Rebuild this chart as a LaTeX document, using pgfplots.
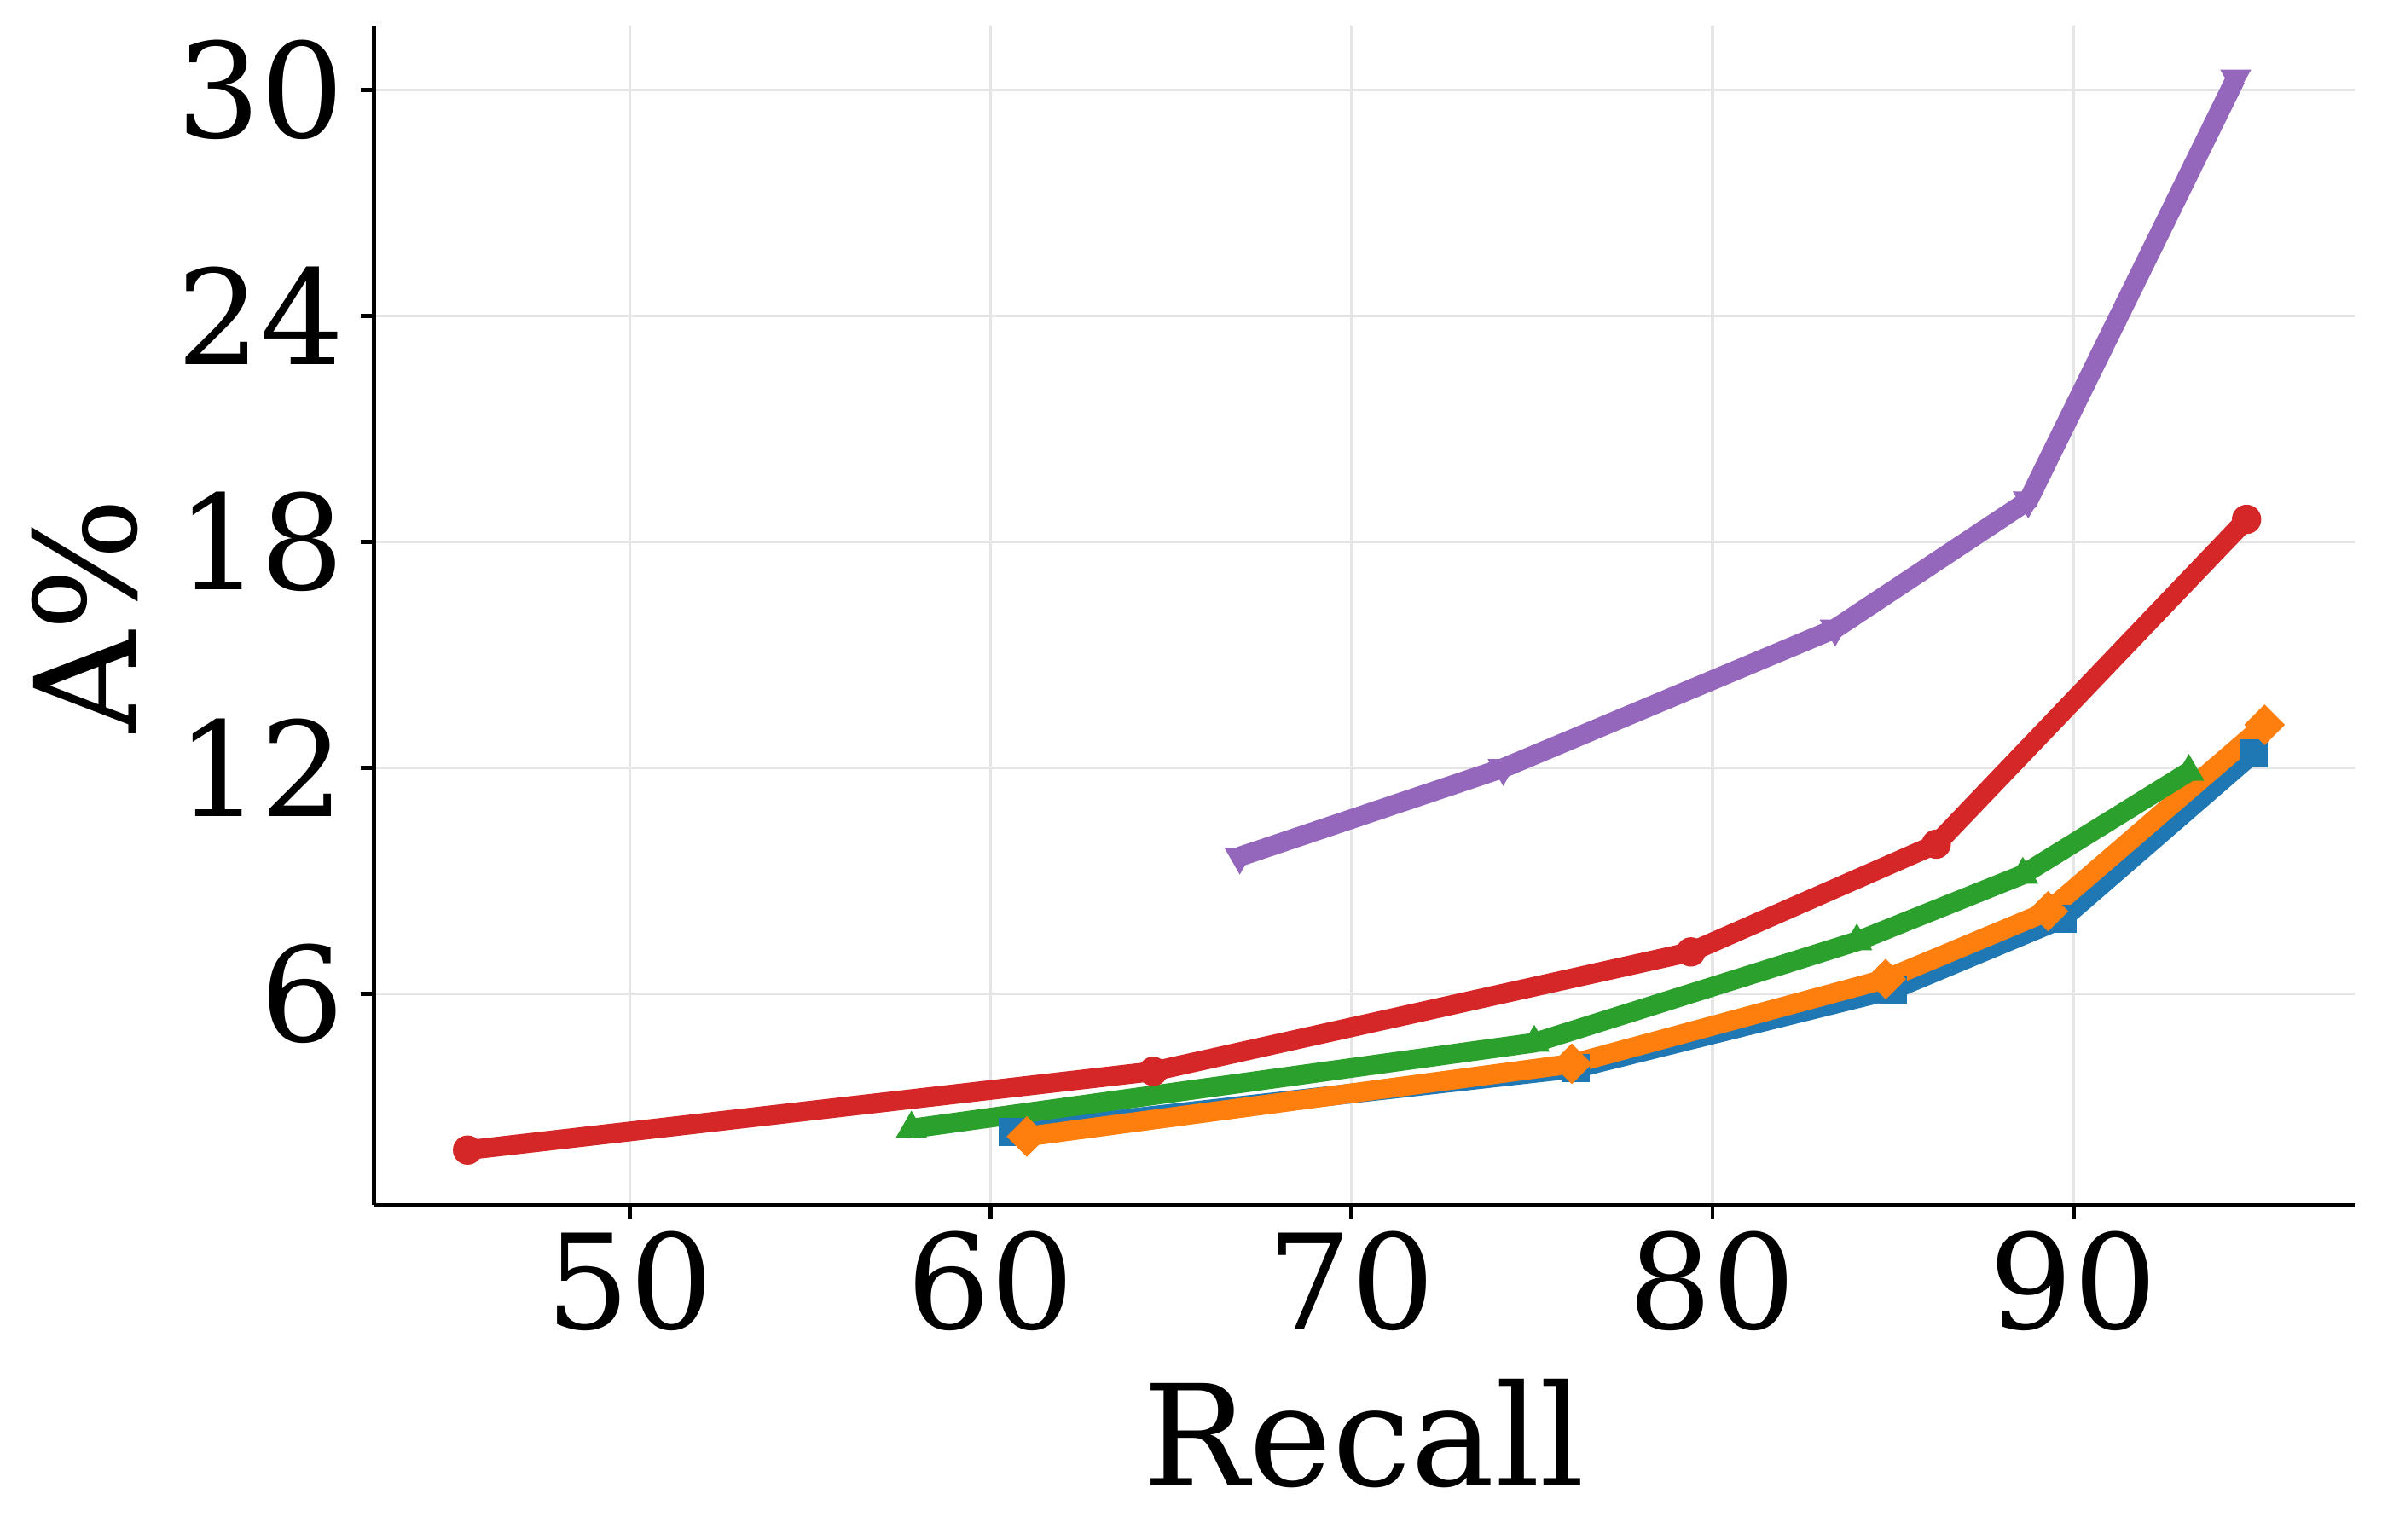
\documentclass[border=0pt]{standalone}
\usepackage{fontspec}
\setmainfont{DejaVu Serif}
\usepackage{pgfplots}
\pgfplotsset{compat=1.18}

\definecolor{tabblue}{HTML}{1F77B4}
\definecolor{taborange}{HTML}{FF7F0E}
\definecolor{tabgreen}{HTML}{2CA02C}
\definecolor{tabred}{HTML}{D62728}
\definecolor{tabpurple}{HTML}{9467BD}

\pgfplotsset{series/.style={line width=3.3pt}}

\begin{document}
\begin{tikzpicture}
    \begin{axis}[
        scale only axis,
        width=11.64cm, height=6.93cm,
        xmin=42.9, xmax=97.8,
        ymin=0.4, ymax=31.7,
        xtick={50,60,70,80,90},
        ytick={6,12,18,24,30},
        axis x line*=bottom,
        axis y line*=left,
        axis line style={line width=0.7pt},
        tick align=outside,
        major tick length=2.2pt,
        tick style={black, line width=0.7pt},
        grid=major,
        grid style={gray!20, line width=0.45pt},
        xlabel={Recall},
        ylabel={A\%},
        xlabel style={at={(axis description cs:0.5,-0.238)}, anchor=base},
        ylabel style={at={(axis description cs:-0.146,0.5)}, anchor=center},
        /pgf/number format/assume math mode=true,
        ticklabel style={font=\fontsize{22}{26}\selectfont},
        xticklabel style={yshift=1.4pt},
        yticklabel style={xshift=0.8pt},
        label style={font=\fontsize{23.5}{28}\selectfont},
    ]

    \addplot[series, color=tabblue, mark=square*, mark size=2.2pt,
        mark options={line width=0.3pt}] coordinates {
        (60.6,2.35) (76.2,4.03) (85.0,6.12) (89.7,8.0) (95.0,12.4)
    };
    \addplot[series, color=taborange, mark=square*, mark size=2.25pt,
        mark options={line width=0.3pt, rotate=45}] coordinates {
        (61.0,2.22) (76.1,4.15) (84.8,6.4) (89.3,8.2) (95.3,13.15)
    };
    \addplot[series, color=tabgreen, mark=triangle*, mark size=2.7pt,
        mark options={line width=0.3pt}] coordinates {
        (57.8,2.43) (75.06,4.71) (84.0,7.4) (88.6,9.17) (93.2,11.9)
    };
    \addplot[series, color=tabred, mark=*, mark size=2.3pt,
        mark options={line width=0.3pt}] coordinates {
        (45.5,1.86) (64.5,3.95) (79.4,7.12) (86.2,9.98) (94.8,18.6)
    };
    \addplot[series, color=tabpurple, mark=triangle*, mark size=2.7pt,
        mark options={line width=0.3pt, rotate=180}] coordinates {
        (66.9,9.65) (74.2,12.0) (83.4,15.7) (88.75,19.1) (94.5,30.3)
    };

    \end{axis}
    \pgfresetboundingbox
    \path[use as bounding box]
        ([shift={(-2.196cm,-1.968cm)}]current axis.south west)
        rectangle ([shift={(0.16cm,0.152cm)}]current axis.north east);
\end{tikzpicture}
\end{document}
